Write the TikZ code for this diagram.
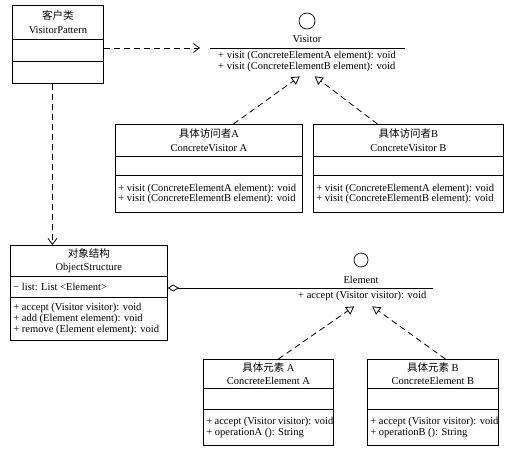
\documentclass[tikz,border=0pt]{standalone}
\usepackage{fontspec}
\setmainfont{Liberation Serif}
\newfontfamily\cjk{Noto Sans CJK SC}
\usetikzlibrary{shapes.multipart,arrows.meta}

% class compartments: height, width, content
\newcommand{\chead}[4]{\parbox[c][#1pt][c]{#2pt}{\centering\baselineskip=13.5pt #3\\ #4\par}}
\newcommand{\cops}[3]{\parbox[c][#1pt][c]{#2pt}{\raggedright\leftskip=3pt\baselineskip=10.8pt #3\par}}
\newcommand{\cblank}[2]{\parbox[c][#1pt][c]{#2pt}{}}

\begin{document}
\begin{tikzpicture}[x=1pt,y=-1pt]

      \tikzset{umlclass/.style={draw, rectangle split, rectangle split parts=3, inner sep=0pt, line width=0.8pt, font=\fontsize{10.5}{11}\selectfont},
               iface/.style={draw, circle, inner sep=0pt, line width=0.7pt},
               dep/.style={line width=0.8pt, dash pattern=on 6pt off 4pt, -{Straight Barb[length=6pt,width=9pt]}},
               real/.style={line width=0.8pt, dash pattern=on 6pt off 4pt, -{Triangle[open,length=8pt,width=9pt]}},
               aggr/.style={line width=0.8pt, {Diamond[open,length=11pt,width=7pt]}-}}
      \useasboundingbox (0,0) rectangle (510,449);
%% Classes
      	\node[umlclass, anchor=north west] (vp) at (12,5) {\chead{33}{91}{{\cjk 客户类}}{VisitorPattern}\nodepart{two}\cblank{21}{91}\nodepart{three}\cblank{22}{91}};
      	\node[umlclass, anchor=north west] (cva) at (115,124) {\chead{31}{187}{{\cjk 具体访问者}A}{ConcreteVisitor A}\nodepart{two}\cblank{18}{187}\nodepart{three}\cops{37}{187}{+ visit (ConcreteElementA element): void\\+ visit (ConcreteElementB element): void}};
      	\node[umlclass, anchor=north west] (cvb) at (313,124) {\chead{31}{190}{{\cjk 具体访问者}B}{ConcreteVisitor B}\nodepart{two}\cblank{18}{190}\nodepart{three}\cops{37}{190}{+ visit (ConcreteElementA element): void\\+ visit (ConcreteElementB element): void}};
      	\node[umlclass, anchor=north west] (os) at (10,245) {\chead{30}{157}{{\cjk 对象结构}}{ObjectStructure}\nodepart{two}\cops{20}{157}{− list: List <Element>}\nodepart{three}\cops{43}{157}{+ accept (Visitor visitor): void\\+ add (Element element): void\\+ remove (Element element): void}};
      	\node[umlclass, anchor=north west] (cea) at (203,359) {\chead{28}{130}{{\cjk 具体元素} A}{ConcreteElement A}\nodepart{two}\cblank{20}{130}\nodepart{three}\cops{36}{130}{+ accept (Visitor visitor): void\\+ operationA (): String}};
      	\node[umlclass, anchor=north west] (ceb) at (367,359) {\chead{28}{131}{{\cjk 具体元素} B}{ConcreteElement B}\nodepart{two}\cblank{20}{131}\nodepart{three}\cops{36}{131}{+ accept (Visitor visitor): void\\+ operationB (): String}};
%% Interfaces
      	\node[iface, minimum size=16pt] (visitorc) at (307,21) {};
      	\node[font=\fontsize{10.5}{11}\selectfont] (visitorn) at (307,39) {Visitor};
      	\node[inner sep=0pt, anchor=north west, font=\fontsize{10.5}{11}\selectfont] (visitorops) at (210,48) {\cops{26}{195}{\leftskip=8pt + visit (ConcreteElementA element): void\\+ visit (ConcreteElementB element): void}};
      	\node[iface, minimum size=14pt] (elemc) at (361,260) {};
      	\node[font=\fontsize{10.5}{11}\selectfont] (elemn) at (361,280) {Element};
      	\node[inner sep=0pt, anchor=north west, font=\fontsize{10.5}{11}\selectfont] (elemops) at (293,288) {\cops{16}{140}{\leftskip=5pt + accept (Visitor visitor): void}};
      	\draw[line width=0.8pt] (visitorops.north west) -- (visitorops.north east);
      	\draw[line width=0.8pt] (elemops.north west) -- (elemops.north east);
      	\coordinate (visitorin) at (200,48);
%Edges
		\path [dep] (vp.east |- visitorin) edge (visitorin);
		\path [dep] ([xshift=-5.5pt]vp.south) edge ([xshift=-5.5pt]vp.south |- os.north);
		\path [real] ([xshift=24.5pt]cva.north) edge ([xshift=-8pt,yshift=-2pt]visitorops.south);
		\path [real] ([xshift=-31pt]cvb.north) edge ([xshift=7pt,yshift=-2pt]visitorops.south);
		\path [aggr] (os.east |- elemops.north west) edge (elemops.north west);
		\path [real] ([xshift=10pt]cea.north) edge ([xshift=-9pt,yshift=-2pt]elemops.south);
		\path [real] ([xshift=12.5pt]ceb.north) edge ([xshift=9pt,yshift=-2pt]elemops.south);

\end{tikzpicture}
\end{document}
